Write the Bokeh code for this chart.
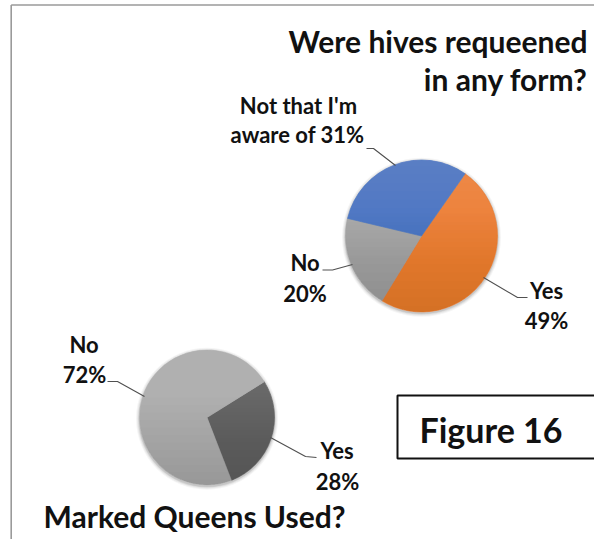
import numpy as np
from bokeh.plotting import figure
from bokeh.models import ColumnDataSource, Range1d
from bokeh.core.properties import value
from bokeh.embed import file_html
from bokeh.resources import INLINE

# ---------------- data ----------------
requeen_labels = ["Yes", "No", "Not that I'm aware of"]
requeen_values = [49, 20, 31]
requeen_colors = ["#ED7D31", "#A5A5A5", "#4472C4"]
requeen_first_angle = 35  # degrees clockwise from 12 o'clock

marked_labels = ["Yes", "No"]
marked_values = [28, 72]
marked_colors = ["#616161", "#b0b0b0"]
marked_first_angle = 58

title_top = ["Were hives requeened", "in any form?"]
title_bottom = "Marked Queens Used?"
figure_label = "Figure 16"

W, H = 594, 539
IMG_H = 547
FONT = value("Lato")


def Y(y_img):
    return IMG_H - y_img


p = figure(width=W, height=H, output_backend="svg", toolbar_location=None,
           x_range=Range1d(0, W), y_range=Range1d(IMG_H - H, IMG_H),
           min_border=0, outline_line_color=None)
p.axis.visible = False
p.grid.visible = False
p.background_fill_color = "white"
p.border_fill_color = "white"

# frame lines (top and left)
p.line([10.7, 610], [Y(4.5), Y(4.5)], line_color="#9a9a9a", line_width=1.6)
p.line([10.7, 10.7], [Y(4.5), Y(560)], line_color="#9a9a9a", line_width=1.6)


def draw_pie(cx, cy, r, values, colors, first_angle):
    vals = np.array(values, dtype=float)
    frac = vals / vals.sum()
    cum = np.concatenate([[0], np.cumsum(frac)])
    start_cw = first_angle + cum[:-1] * 360
    end_cw = first_angle + cum[1:] * 360
    start = np.radians(90 - start_cw)
    end = np.radians(90 - end_cw)
    for k, a in [(3.5, 0.04), (2.5, 0.05), (1.5, 0.07), (0.8, 0.08)]:
        p.scatter(x=[cx], y=[cy - 1.2], size=2 * (r + k), marker="circle",
                  fill_color="#000000", fill_alpha=a, line_color=None)
    src = ColumnDataSource(dict(x=[cx] * len(vals), y=[cy] * len(vals),
                                start=start, end=end, color=colors))
    p.wedge(x="x", y="y", radius=r, start_angle="start", end_angle="end",
            direction="clock", source=src, fill_color="color",
            line_color="color", line_width=0.6)
    xs, ys = [], []
    for t in np.linspace(-0.3, 0.92, 12):
        a0 = np.arcsin(t)
        th = np.linspace(a0, np.pi - a0, 80)
        xs.append(list(cx + r * np.cos(th)))
        ys.append(list(cy + r * np.sin(th)))
    p.patches(xs, ys, fill_color="white", fill_alpha=0.013, line_color=None)
    xs, ys = [], []
    for t in np.linspace(0.3, -0.92, 12):
        a0 = np.arcsin(t)
        th = np.linspace(np.pi - a0, 2 * np.pi + a0, 80)
        xs.append(list(cx + r * np.cos(th)))
        ys.append(list(cy + r * np.sin(th)))
    p.patches(xs, ys, fill_color="black", fill_alpha=0.007, line_color=None)


draw_pie(421, Y(235.5), 76, requeen_values, requeen_colors, requeen_first_angle)
draw_pie(206.5, Y(417), 67.5, marked_values, marked_colors, marked_first_angle)

LC = "#505050"
p.multi_line(
    xs=[[366, 373, 395], [322, 332, 352], [483, 517, 527],
        [107, 117, 144], [270, 305, 316]],
    ys=[[Y(148), Y(148), Y(165)], [Y(269.5), Y(269.5), Y(264)],
        [Y(277), Y(297), Y(297)], [Y(381), Y(381), Y(396)],
        [Y(437), Y(456), Y(457)]],
    line_color=LC, line_width=1.1)

p.quad(left=[397], right=[640], top=[Y(395)], bottom=[Y(458)],
       fill_color="white", line_color="#111111", line_width=2)


def txt(x, y_base, s, size, align="center"):
    # the renderer places the alphabetic baseline ~0.37 em lower than asked
    y_img = y_base - 0.37 * size
    p.text(x=[x], y=[Y(y_img)], text=[s], text_font=FONT,
           text_font_style="bold", text_font_size="%dpx" % size,
           text_color="#111111", text_align=align, text_baseline="alphabetic")


LS = 22
total_r = sum(requeen_values)
total_m = sum(marked_values)
txt(298, 113, "Not that I'm", LS)
txt(297, 142, "aware of %d%%" % round(100 * requeen_values[2] / total_r), LS)
txt(304.5, 270, requeen_labels[1], LS)
txt(304.5, 301, "%d%%" % round(100 * requeen_values[1] / total_r), LS)
txt(546, 298, requeen_labels[0], LS)
txt(546, 328, "%d%%" % round(100 * requeen_values[0] / total_r), LS)
txt(83.5, 352, marked_labels[1], LS)
txt(84, 382, "%d%%" % round(100 * marked_values[1] / total_m), LS)
txt(336.5, 458, marked_labels[0], LS)
txt(337, 489, "%d%%" % round(100 * marked_values[0] / total_m), LS)

txt(587, 52, title_top[0], 30, "right")
txt(587, 90, title_top[1], 30, "right")
txt(43, 527, title_bottom, 30, "left")
txt(419, 442, figure_label, 34, "left")

open("out.html", "w").write(file_html(p, INLINE))
